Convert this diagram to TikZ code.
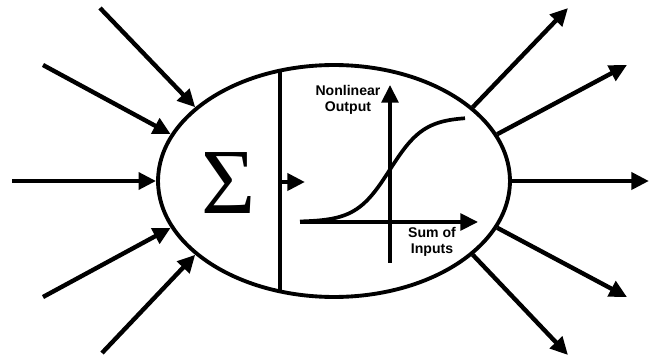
\documentclass[tikz,border=0pt]{standalone}
\usepackage{fontspec}
\setsansfont{Liberation Sans}
\newfontfamily\sigmafont{Liberation Serif}
\usetikzlibrary{shapes.geometric,arrows.meta}

\begin{document}
\begin{tikzpicture}[x=0.02cm, y=-0.02cm,
    link/.style={line width=2.5pt, -{Triangle[length=10pt,width=9.5pt]}},
    axis/.style={line width=2.1pt, -{Triangle[length=10pt,width=9.5pt]}},
    label/.style={font=\sffamily\bfseries\fontsize{8}{9.5}\selectfont, align=center, inner sep=0pt}]

    \useasboundingbox (0,0) rectangle (650,358);

    \node[draw, ellipse, line width=2.2pt, minimum width=7.04cm, minimum height=4.64cm] (neuron) at (334,181) {};
    \node[font=\sigmafont\fontsize{53}{53}\selectfont, inner sep=0pt] (sum) at (229,183) {Σ};

    \coordinate (in1) at (100,8);
    \coordinate (in2) at (43,65);
    \coordinate (in3) at (12,181);
    \coordinate (in4) at (43,297);
    \coordinate (in5) at (102,353);

    \coordinate (out1) at (568,8);
    \coordinate (out2) at (627,65);
    \coordinate (out3) at (649,181);
    \coordinate (out4) at (627,297);
    \coordinate (out5) at (568,355);

    \draw[link] (in1) -- (neuron.152);
    \draw[link] (in2) -- (neuron.164);
    \draw[link] (in3) -- (neuron.180);
    \draw[link] (in4) -- (neuron.196);
    \draw[link] (in5) -- (neuron.208);

    \draw[link] (neuron.28) -- (out1);
    \draw[link] (neuron.16) -- (out2);
    \draw[link] (neuron.0) -- (out3);
    \draw[link] (neuron.-16) -- (out4);
    \draw[link] (neuron.-28) -- (out5);

    % divider and step into the activation
    \coordinate (divtop) at (280,70.5);
    \coordinate (divbot) at (280,291.5);
    \coordinate (divmid) at (280,182);
    \coordinate (stepin) at (305,182);
    \draw[line width=2pt] (divtop) -- (divbot);
    \draw[link] (divmid) -- (stepin);

    % activation curve
    \coordinate (xstart) at (300,222);
    \coordinate (xend) at (478,222);
    \coordinate (ystart) at (390,263);
    \coordinate (yend) at (390,85);
    \draw[axis] (xstart) -- (xend);
    \draw[axis] (ystart) -- (yend);
    \draw[line width=2.1pt] plot[domain=300:465, samples=80, smooth] (\x, {222-105/(1+exp(-(\x-390)/17))});

    \node[label] (ylab) at (348,100) {Nonlinear\\Output};
    \node[label] (xlab) at (432,242) {Sum of\\Inputs};

\end{tikzpicture}
\end{document}
